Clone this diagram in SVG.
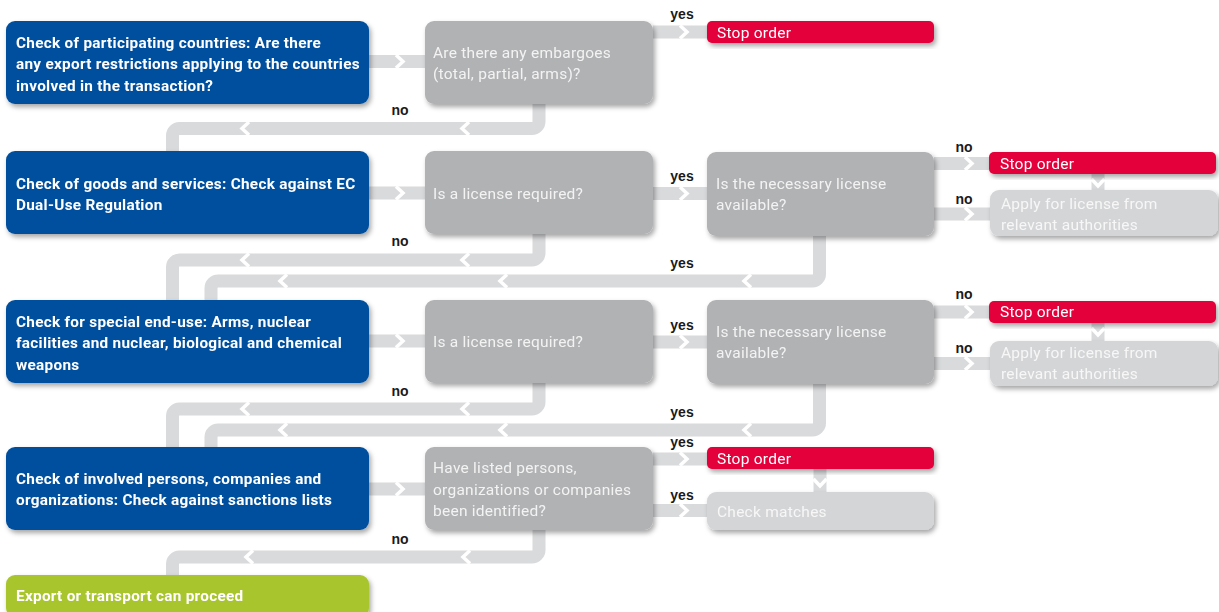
<svg xmlns="http://www.w3.org/2000/svg" width="1219" height="612" viewBox="0 0 1219 612">
<style>
.blue{fill:#02509e}
.q{fill:#b1b2b4}
.lt{fill:#d4d5d7}
.red{fill:#e3003a}
.grn{fill:#a8c52f}
.band{fill:none;stroke:#d9dadc;stroke-width:13}
.chev{fill:none;stroke:#fff;stroke-width:3.5;stroke-linejoin:miter}
.tb{font-family:Roboto,"Liberation Sans",sans-serif;font-weight:700;font-size:15.3px;letter-spacing:0.3px;fill:#fff}
.tq{font-family:Roboto,"Liberation Sans",sans-serif;font-size:15.5px;letter-spacing:0.25px;fill:#f3f3f3}
.tl{font-family:Roboto,"Liberation Sans",sans-serif;font-size:15.5px;letter-spacing:0.25px;fill:#f7f7f7}
.tr{font-family:Roboto,"Liberation Sans",sans-serif;font-size:15.5px;letter-spacing:0.25px;fill:#fff}
.lbl{font-family:"Liberation Sans",Arial,sans-serif;font-weight:700;font-size:14px;fill:#1a1a1a;text-anchor:middle}
</style>
<defs>
<filter id="sh" x="-5%" y="-10%" width="115%" height="135%">
<feDropShadow dx="2" dy="3" stdDeviation="2.5" flood-color="#000" flood-opacity="0.35"/>
</filter>
</defs>
<rect width="1219" height="612" fill="#fff"/>
<g id="connectors">
<path class="band" d="M369,61.5 H425"/>
<path class="band" d="M653,32 H707"/>
<path class="band" d="M539,104 V121.5 A7,7 0 0 1 532,128.5 H179.5 A7,7 0 0 0 172.5,135.5 V151"/>
<path class="band" d="M369,193 H425"/>
<path class="band" d="M653,193.5 H707"/>
<path class="band" d="M934,163.5 H989"/>
<path class="band" d="M934,214 H990"/>
<path class="band" d="M1098,173 V190"/>
<path class="band" d="M539,234 V253 A7,7 0 0 1 532,260 H179.5 A7,7 0 0 0 172.5,267 V300"/>
<path class="band" d="M819.5,236 V274 A7,7 0 0 1 812.5,281 H218 A7,7 0 0 0 211,288 V300"/>
<path class="band" d="M369,341 H425"/>
<path class="band" d="M653,342 H707"/>
<path class="band" d="M934,312 H989"/>
<path class="band" d="M934,363.5 H990"/>
<path class="band" d="M1098,323 V341"/>
<path class="band" d="M539,383 V402 A7,7 0 0 1 532,409 H179.5 A7,7 0 0 0 172.5,416 V447"/>
<path class="band" d="M819.5,384 V423 A7,7 0 0 1 812.5,430 H218 A7,7 0 0 0 211,437 V447"/>
<path class="band" d="M369,489 H425"/>
<path class="band" d="M653,459 H707"/>
<path class="band" d="M653,510.5 H707"/>
<path class="band" d="M820,469 V492"/>
<path class="band" d="M539,530 V550 A7,7 0 0 1 532,557 H179.5 A7,7 0 0 0 172.5,564 V575"/>
<g id="chevrons">
<path class="chev" d="M396,55 L403,61.5 L396,68"/>
<path class="chev" d="M680,25.5 L687,32 L680,38.5"/>
<path class="chev" d="M249,122 L242,128.5 L249,135"/>
<path class="chev" d="M469,122 L462,128.5 L469,135"/>
<path class="chev" d="M396,186.5 L403,193 L396,199.5"/>
<path class="chev" d="M680,187 L687,193.5 L680,200"/>
<path class="chev" d="M965,157 L972,163.5 L965,170"/>
<path class="chev" d="M965,207.5 L972,214 L965,220.5"/>
<path class="chev" d="M1091.5,179 L1098,186 L1104.5,179"/>
<path class="chev" d="M249,253.5 L242,260 L249,266.5"/>
<path class="chev" d="M469,253.5 L462,260 L469,266.5"/>
<path class="chev" d="M287,274.5 L280,281 L287,287.5"/>
<path class="chev" d="M507,274.5 L500,281 L507,287.5"/>
<path class="chev" d="M751,274.5 L744,281 L751,287.5"/>
<path class="chev" d="M396,334.5 L403,341 L396,347.5"/>
<path class="chev" d="M680,335.5 L687,342 L680,348.5"/>
<path class="chev" d="M965,305.5 L972,312 L965,318.5"/>
<path class="chev" d="M965,357 L972,363.5 L965,370"/>
<path class="chev" d="M1091.5,328 L1098,335 L1104.5,328"/>
<path class="chev" d="M249,402.5 L242,409 L249,415.5"/>
<path class="chev" d="M469,402.5 L462,409 L469,415.5"/>
<path class="chev" d="M287,423.5 L280,430 L287,436.5"/>
<path class="chev" d="M507,423.5 L500,430 L507,436.5"/>
<path class="chev" d="M751,423.5 L744,430 L751,436.5"/>
<path class="chev" d="M396,482.5 L403,489 L396,495.5"/>
<path class="chev" d="M680,452.5 L687,459 L680,465.5"/>
<path class="chev" d="M680,504 L687,510.5 L680,517"/>
<path class="chev" d="M813.5,479 L820,486 L826.5,479"/>
<path class="chev" d="M253,550.5 L246,557 L253,563.5"/>
<path class="chev" d="M470,550.5 L463,557 L470,563.5"/>
</g>
<g id="labels">
<text class="lbl" x="682" y="19">yes</text>
<text class="lbl" x="400" y="115">no</text>
<text class="lbl" x="964" y="152">no</text>
<text class="lbl" x="682" y="181">yes</text>
<text class="lbl" x="964" y="204">no</text>
<text class="lbl" x="400" y="246">no</text>
<text class="lbl" x="682" y="268">yes</text>
<text class="lbl" x="964" y="299">no</text>
<text class="lbl" x="682" y="330">yes</text>
<text class="lbl" x="964" y="353">no</text>
<text class="lbl" x="400" y="396">no</text>
<text class="lbl" x="682" y="417">yes</text>
<text class="lbl" x="682" y="447">yes</text>
<text class="lbl" x="682" y="500">yes</text>
<text class="lbl" x="400" y="544">no</text>
</g>
</g>
<g id="b1" filter="url(#sh)">
<rect class="blue" x="6" y="21" width="363" height="83" rx="9"/>
<text class="tb" x="16" y="47.5">Check of participating countries: Are there</text>
<text class="tb" x="16" y="69">any export restrictions applying to the countries</text>
<text class="tb" x="16" y="90.5">involved in the transaction?</text>
</g>
<g id="q1" filter="url(#sh)">
<rect class="q" x="425" y="21" width="228" height="83" rx="9"/>
<text class="tq" x="433" y="58">Are there any embargoes</text>
<text class="tq" x="433" y="79">(total, partial, arms)?</text>
</g>
<g id="r1" filter="url(#sh)">
<rect class="red" x="707" y="21" width="227" height="22" rx="5"/>
<text class="tr" x="717" y="37.5">Stop order</text>
</g>
<g id="b2" filter="url(#sh)">
<rect class="blue" x="6" y="151" width="363" height="83" rx="9"/>
<text class="tb" x="16" y="188.5">Check of goods and services: Check against EC</text>
<text class="tb" x="16" y="209.5">Dual-Use Regulation</text>
</g>
<g id="q2" filter="url(#sh)">
<rect class="q" x="425" y="151" width="228" height="83" rx="9"/>
<text class="tq" x="433" y="198.5">Is a license required?</text>
</g>
<g id="la1" filter="url(#sh)">
<rect class="q" x="707" y="152" width="227" height="84" rx="9"/>
<text class="tq" x="716" y="189">Is the necessary license</text>
<text class="tq" x="716" y="210">available?</text>
</g>
<g id="r2" filter="url(#sh)">
<rect class="red" x="989" y="152" width="227" height="22" rx="5"/>
<text class="tr" x="1000" y="168.5">Stop order</text>
</g>
<g id="l1" filter="url(#sh)">
<rect class="lt" x="990" y="190" width="228" height="46" rx="9"/>
<text class="tl" x="1001" y="208.5">Apply for license from</text>
<text class="tl" x="1001" y="229.5">relevant authorities</text>
</g>
<g id="b3" filter="url(#sh)">
<rect class="blue" x="6" y="300" width="363" height="83" rx="9"/>
<text class="tb" x="16" y="326.5">Check for special end-use: Arms, nuclear</text>
<text class="tb" x="16" y="348">facilities and nuclear, biological and chemical</text>
<text class="tb" x="16" y="369.5">weapons</text>
</g>
<g id="q3" filter="url(#sh)">
<rect class="q" x="425" y="300" width="228" height="83" rx="9"/>
<text class="tq" x="433" y="346.5">Is a license required?</text>
</g>
<g id="la2" filter="url(#sh)">
<rect class="q" x="707" y="300" width="227" height="84" rx="9"/>
<text class="tq" x="716" y="337">Is the necessary license</text>
<text class="tq" x="716" y="358">available?</text>
</g>
<g id="r3" filter="url(#sh)">
<rect class="red" x="989" y="301" width="227" height="22" rx="5"/>
<text class="tr" x="1000" y="317">Stop order</text>
</g>
<g id="l2" filter="url(#sh)">
<rect class="lt" x="990" y="341" width="228" height="45" rx="9"/>
<text class="tl" x="1001" y="358">Apply for license from</text>
<text class="tl" x="1001" y="379">relevant authorities</text>
</g>
<g id="b4" filter="url(#sh)">
<rect class="blue" x="6" y="447" width="363" height="83" rx="9"/>
<text class="tb" x="16" y="483.5">Check of involved persons, companies and</text>
<text class="tb" x="16" y="505">organizations: Check against sanctions lists</text>
</g>
<g id="q4" filter="url(#sh)">
<rect class="q" x="425" y="447" width="228" height="83" rx="9"/>
<text class="tq" x="433" y="473">Have listed persons,</text>
<text class="tq" x="433" y="494.5">organizations or companies</text>
<text class="tq" x="433" y="515.5">been identified?</text>
</g>
<g id="r4" filter="url(#sh)">
<rect class="red" x="707" y="447" width="227" height="22" rx="5"/>
<text class="tr" x="717" y="464">Stop order</text>
</g>
<g id="l3" filter="url(#sh)">
<rect class="lt" x="707" y="492" width="227" height="38" rx="9"/>
<text class="tl" x="717" y="516.5">Check matches</text>
</g>
<g id="green" filter="url(#sh)">
<rect class="grn" x="6" y="575" width="363" height="42" rx="9"/>
<text class="tb" x="16" y="600.5">Export or transport can proceed</text>
</g>
</svg>
